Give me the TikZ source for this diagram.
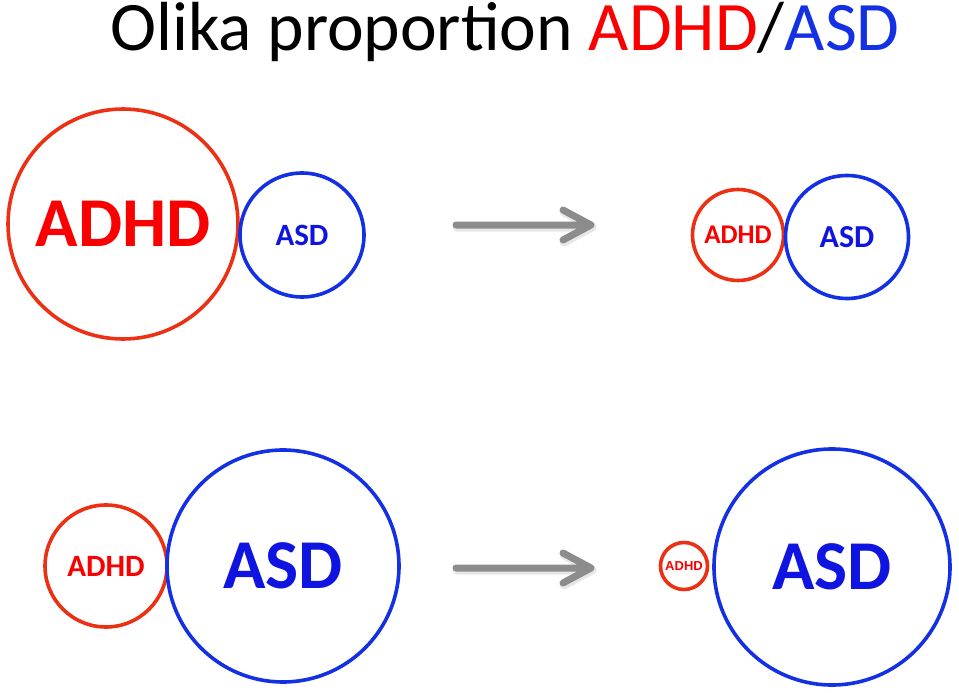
\documentclass[tikz,border=0pt]{standalone}
\usepackage{fontspec}
\setmainfont{Carlito}
\newfontfamily\arialfont{Liberation Sans}
\definecolor{cred}{RGB}{236,48,20}
\definecolor{tred}{RGB}{250,0,0}
\definecolor{cblue}{RGB}{20,48,228}
\definecolor{tblue}{RGB}{15,20,225}
\definecolor{agray}{RGB}{140,140,140}
\definecolor{ashadow}{RGB}{215,215,215}
\tikzset{
  redcirc/.style={circle, draw=cred, line width=3.6pt, inner sep=0pt, text=tred, font=\bfseries},
  bluecirc/.style={circle, draw=cblue, line width=3.6pt, inner sep=0pt, text=tblue, font=\bfseries},
  arrowline/.style={draw=agray, line width=7pt, line cap=round, line join=round},
  shadowline/.style={draw=ashadow, line width=9pt, line cap=round, line join=round}
}
\begin{document}
\begin{tikzpicture}[x=1pt,y=-1pt]
\useasboundingbox (0,0) rectangle (959,693);
% title
\node[anchor=center, inner sep=0pt, font=\fontsize{69.5}{72}\selectfont] (title) at (505,32)
  {Olika proportion \textcolor{tred}{ADHD}/\textcolor{cblue}{ASD}};
% top row
\node[redcirc, minimum size=230pt, font=\bfseries\fontsize{70}{72}\selectfont] (adhd1) at (123,224) {ADHD};
\node[bluecirc, minimum size=124pt, font=\bfseries\fontsize{31}{33}\selectfont] (asd1) at (302,235) {ASD};
\node[redcirc, minimum size=91pt, font=\bfseries\fontsize{27}{29}\selectfont] (adhd2) at (738,235) {ADHD};
\node[bluecirc, minimum size=123pt, font=\bfseries\fontsize{32}{34}\selectfont] (asd2) at (847,237) {ASD};
% bottom row
\node[redcirc, minimum size=122pt, font=\bfseries\fontsize{31}{33}\selectfont] (adhd3) at (106,566) {ADHD};
\node[bluecirc, minimum size=232pt, font=\bfseries\fontsize{70}{72}\selectfont] (asd3) at (283,566) {ASD};
\node[redcirc, minimum size=47pt, font=\arialfont\bfseries\fontsize{13}{14}\selectfont] (adhd4) at (684,566) {ADHD};
\node[bluecirc, minimum size=236pt, font=\bfseries\fontsize{70}{72}\selectfont] (asd4) at (832,567) {ASD};
% arrows
\coordinate (a1s) at (456,225); \coordinate (a1e) at (591,225);
\coordinate (a1u) at (563,210); \coordinate (a1d) at (563,240);
\coordinate (a2s) at (456,568); \coordinate (a2e) at (591,568);
\coordinate (a2u) at (563,553); \coordinate (a2d) at (563,583);
\foreach \s/\e/\u/\d in {a1s/a1e/a1u/a1d, a2s/a2e/a2u/a2d}{
  \draw[shadowline, opacity=0.6, transform canvas={shift={(1pt,-2pt)}}] (\s) -- (\e) (\u) -- (\e) -- (\d);
  \draw[arrowline] (\s) -- (\e) (\u) -- (\e) -- (\d);
}
\end{tikzpicture}
\end{document}
